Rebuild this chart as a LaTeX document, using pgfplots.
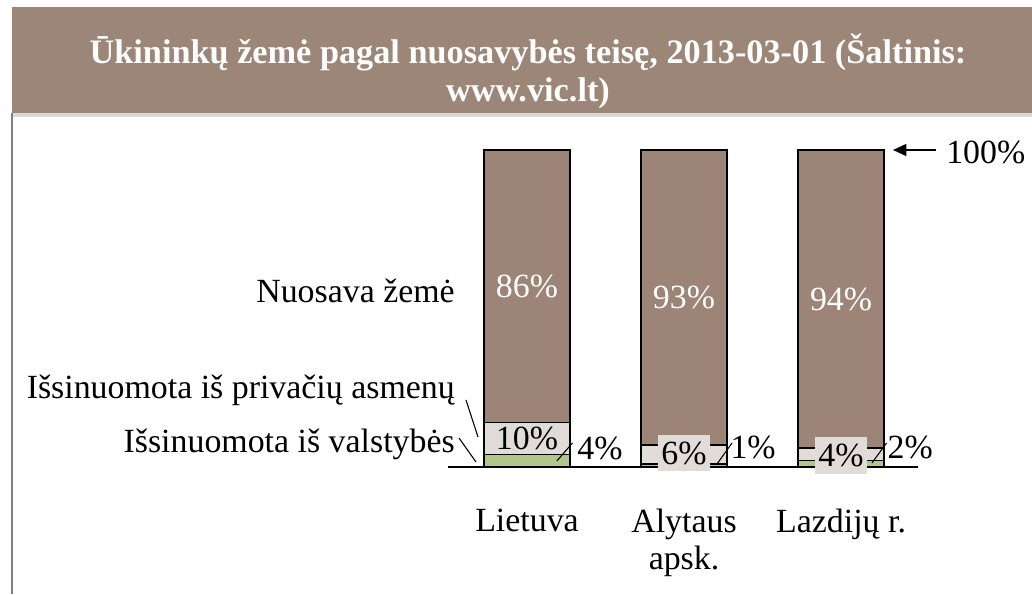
\documentclass[border=0pt]{standalone}
\usepackage{fontspec}
\setmainfont{Liberation Serif}
\usepackage{pgfplots}
\usepackage{pgfplotstable}
\pgfplotsset{compat=1.18}
\usetikzlibrary{arrows.meta,shadows}
\definecolor{banner}{HTML}{9B8677}
\definecolor{own}{HTML}{9C8577}
\definecolor{priv}{HTML}{E2DCD8}
\definecolor{state}{HTML}{B0C68A}
\newcommand\lbl{\fontsize{25.4}{27.5}\selectfont}

\pgfplotstableread{
x state priv own
0 4  10 86
1 1  6  93
2 2  4  94
}\landdata

\begin{document}
\begin{tikzpicture}
\begin{scope}[x=0.75pt,y=-0.75pt]
\useasboundingbox (0,0) rectangle (1032,594);
\fill[banner, drop shadow={shadow xshift=0pt, shadow yshift=-3pt, opacity=0.3}] (12,7) rectangle (1032,113);
\node[text=white, align=center, font=\bfseries\fontsize{25.7}{28.5}\selectfont] at (528,71)
  {Ūkininkų žemė pagal nuosavybės teisę, 2013-03-01 (Šaltinis:\\www.vic.lt)};
\draw[gray, line width=1.2pt] (12,113) -- (12,594);
\node[anchor=base east, font=\lbl, inner sep=0pt] at (455,302) {Nuosava žemė};
\node[anchor=base east, font=\lbl, inner sep=0pt] at (455,398) {Išsinuomota iš privačių asmenų};
\node[anchor=base east, font=\lbl, inner sep=0pt] at (455,452) {Išsinuomota iš valstybės};
\draw[line width=0.8pt] (466,400) -- (478,437);
\draw[line width=0.8pt] (459,438) -- (476,462);
\draw[-{Triangle[length=10pt,width=9pt]}, line width=1.2pt] (936,150) -- (893,150);
\node[anchor=west, font=\lbl, inner sep=0pt] at (946,152) {100\%};
\end{scope}
\begin{axis}[
  at={(336pt,-350.25pt)}, anchor=south west,
  scale only axis, width=352.5pt, height=237.75pt,
  xmin=-0.503, xmax=2.49, ymin=0, ymax=100,
  ybar stacked, bar width=64.5pt,
  axis x line*=bottom, axis line style={-, line width=1pt},
  hide y axis,
  xtick={0,1,2}, major tick length=0pt,
  xticklabels={Lietuva, {Alytaus\\apsk.}, {Lazdijų r.}},
  xticklabel style={align=center, font=\lbl, yshift=-28pt},
  clip=false,
]
\addplot[fill=state, draw=black, line width=1.2pt] table[x=x, y=state] {\landdata};
\addplot[fill=priv, draw=black, line width=1.2pt] table[x=x, y=priv] {\landdata};
\addplot[fill=own, draw=black, line width=1.2pt] table[x=x, y=own] {\landdata};
% label anchors (drawn after the axis so they sit on top of the bars)
\coordinate (o0) at (axis cs:0,57);
\coordinate (o1) at (axis cs:1,53.5);
\coordinate (o2) at (axis cs:2,53);
\coordinate (p0) at (axis cs:0,9);
\coordinate (p1) at (axis cs:1,4.4);
\coordinate (p2) at (axis cs:2,3.6);
\coordinate (s0) at (axis cs:0.465,5.7);
\coordinate (s1) at (axis cs:1.44,6.3);
\coordinate (s2) at (axis cs:2.44,6.3);
\coordinate (a0) at (axis cs:0.19,1.9);
\coordinate (b0) at (axis cs:0.29,7.6);
\coordinate (a1) at (axis cs:1.21,0.95);
\coordinate (b1) at (axis cs:1.306,7.6);
\coordinate (a2) at (axis cs:2.197,1.3);
\coordinate (b2) at (axis cs:2.29,7.6);
\end{axis}
\node[text=white, font=\lbl] at (o0) {86\%};
\node[text=white, font=\lbl] at (o1) {93\%};
\node[text=white, font=\lbl] at (o2) {94\%};
\node[font=\lbl] at (p0) {10\%};
\draw[line width=0.8pt] (a0) -- (b0);
\draw[line width=0.8pt] (a1) -- (b1);
\draw[line width=0.8pt] (a2) -- (b2);
\node[font=\lbl, fill=priv, inner xsep=2.5pt, inner ysep=5pt] at (p1) {6\%};
\node[font=\lbl, fill=priv, inner xsep=2.5pt, inner ysep=5pt] at (p2) {4\%};
\node[font=\lbl] at (s0) {4\%};
\node[font=\lbl] at (s1) {1\%};
\node[font=\lbl] at (s2) {2\%};
\end{tikzpicture}
\end{document}
